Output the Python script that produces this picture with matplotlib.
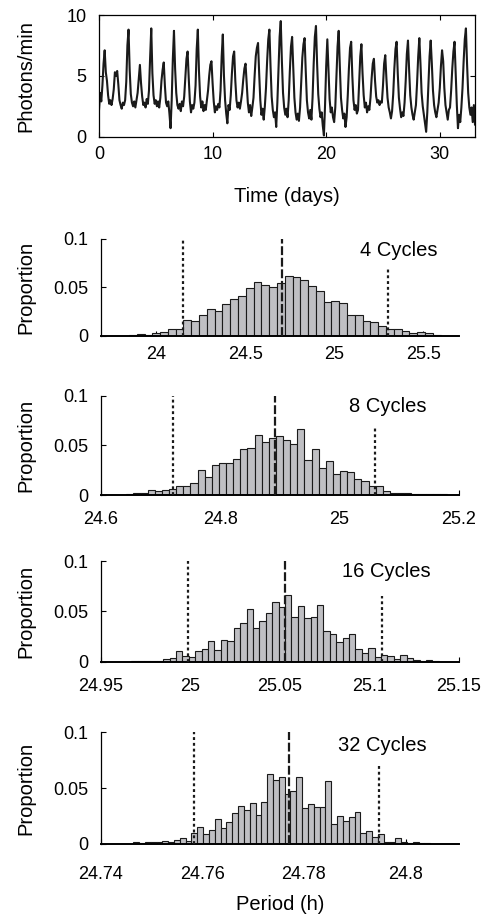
import numpy as np
import matplotlib
matplotlib.use("Agg")
import matplotlib.pyplot as plt

plt.rcParams['font.family'] = ['Liberation Sans', 'DejaVu Sans']

# ---------------- bioluminescence trace (photons/min, one sample every 0.1 day)
sample_step_days = 0.1
photons = [
    2.2, 3.6, 2.9, 4.2, 6.0, 7.1, 5.3, 4.6, 3.4, 2.7,
    3.0, 2.6, 3.1, 3.9, 5.3, 5.0, 5.4, 4.3, 3.0, 2.6,
    2.3, 2.8, 2.6, 3.0, 4.5, 7.5, 8.8, 5.5, 3.5, 2.8,
    2.5, 2.9, 2.4, 3.0, 3.6, 4.8, 5.9, 4.4, 3.3, 2.6,
    2.8, 2.4, 3.1, 2.7, 3.8, 6.5, 8.9, 5.2, 3.4, 2.7,
    3.0, 2.5, 2.9, 2.4, 3.2, 4.6, 5.5, 6.1, 4.2, 2.8,
    2.5, 2.9, 1.9, 0.7, 3.0, 6.4, 8.7, 5.6, 3.6, 2.6,
    2.3, 2.7, 2.1, 2.9, 2.5, 3.3, 4.9, 6.4, 7.0, 4.8,
    2.9, 2.0, 2.6, 2.3, 2.8, 4.2, 7.2, 8.8, 5.4, 3.3,
    2.4, 2.9, 2.1, 2.6, 2.2, 3.0, 3.8, 5.0, 5.9, 6.2,
    4.4, 2.9, 2.0, 2.5, 2.2, 2.7, 2.4, 3.8, 6.6, 8.4,
    5.0, 3.0, 1.9, 1.1, 2.6, 2.2, 3.4, 5.2, 6.6, 7.0,
    4.6, 3.0, 2.4, 2.8, 2.3, 2.9, 3.6, 4.7, 5.6, 6.0,
    4.4, 2.8, 2.0, 2.6, 1.7, 2.4, 3.2, 5.0, 6.6, 7.3,
    7.7, 5.2, 3.0, 1.8, 2.3, 1.4, 2.5, 4.0, 6.2, 8.0,
    8.8, 5.8, 3.3, 2.2, 1.6, 2.0, 0.8, 2.8, 5.5, 8.2,
    9.5, 6.2, 3.6, 2.4, 1.8, 2.3, 1.6, 3.0, 5.4, 7.4,
    8.2, 5.6, 3.2, 2.0, 1.4, 1.9, 1.3, 2.4, 4.5, 6.5,
    7.6, 8.1, 5.4, 3.0, 2.0, 1.5, 2.2, 1.4, 3.2, 6.0,
    8.2, 9.1, 6.0, 3.5, 2.3, 1.6, 2.0, 0.9, 0.1, 2.6,
    5.8, 8.0, 5.6, 3.1, 2.0, 2.4, 1.6, 1.2, 2.4, 4.8,
    7.4, 8.7, 5.8, 3.2, 2.2, 1.5, 1.9, 0.8, 1.6, 3.4,
    5.6, 7.3, 7.8, 5.0, 3.0, 2.2, 2.6, 1.9, 2.2, 4.3,
    6.6, 7.6, 5.2, 3.4, 2.4, 2.8, 2.0, 2.5, 2.2, 3.2,
    4.8, 6.0, 6.4, 4.6, 3.3, 2.8, 3.0, 2.6, 2.9, 2.8,
    4.2, 6.0, 6.7, 4.8, 3.2, 2.4, 2.0, 1.5, 2.1, 3.5,
    5.6, 7.2, 7.8, 5.2, 3.2, 2.3, 1.6, 2.0, 1.7, 2.8,
    4.6, 6.8, 7.9, 5.5, 3.4, 2.4, 1.8, 1.4, 2.0, 2.6,
    4.4, 6.6, 8.1, 6.0, 3.6, 2.5, 1.8, 1.1, 0.4, 2.0,
    4.2, 6.6, 7.9, 6.0, 3.8, 2.6, 2.0, 1.6, 2.2, 2.8,
    4.0, 5.8, 7.1, 6.2, 4.0, 2.6, 2.0, 1.4, 2.2, 2.4,
    3.8, 5.6, 7.0, 7.8, 5.2, 2.6, 0.7, 1.8, 1.2, 2.4,
    4.0, 6.2, 8.0, 8.9, 6.0, 3.6, 2.4, 1.8, 2.4, 1.2,
    2.6, 1.0,
]
time_xlim = (0, 33.1)
time_xticks = [0, 10, 20, 30]
photon_yticks = [0, 5, 10]

# ---------------- bootstrap period distributions
cycles_labels = ["4 Cycles", "8 Cycles", "16 Cycles", "32 Cycles"]

bin_start = [23.761, 24.619, 24.967, 24.7464]
bin_width = [0.0437, 0.01193, 0.003577, 0.001146]

prop_4 = [0.0003, 0.0003, 0.0006, 0.0024, 0.0015, 0.003, 0.004, 0.007, 0.007,
          0.016, 0.015, 0.022, 0.028, 0.026, 0.033, 0.038, 0.041, 0.049, 0.055,
          0.052, 0.050, 0.054, 0.062, 0.061, 0.058, 0.051, 0.046, 0.035, 0.036,
          0.034, 0.022, 0.022, 0.015, 0.014, 0.0105, 0.007, 0.007, 0.005, 0.0027,
          0.0044, 0.0027, 0.001, 0.0005, 0.0003]
prop_8 = [0.0003, 0.0003, 0.0007, 0.0024, 0.0017, 0.0047, 0.0037, 0.0054, 0.0064,
          0.0088, 0.0095, 0.0125, 0.0247, 0.018, 0.030, 0.032, 0.032, 0.036, 0.0466,
          0.047, 0.060, 0.053, 0.057, 0.059, 0.055, 0.051, 0.066, 0.035, 0.046,
          0.027, 0.034, 0.021, 0.024, 0.023, 0.016, 0.0145, 0.009, 0.0095, 0.004,
          0.0017, 0.0017, 0.0017, 0.0007, 0.0014, 0.0007, 0.0014, 0.0007]
prop_16 = [0.0003, 0.0007, 0.0003, 0.001, 0.001, 0.0023, 0.0033,
           0.011, 0.006, 0.005, 0.011, 0.0125, 0.021, 0.0115, 0.022, 0.0207, 0.033,
           0.0385, 0.052, 0.0336, 0.040, 0.0487, 0.0595, 0.054, 0.066, 0.044, 0.0556,
           0.043, 0.044, 0.056, 0.0306, 0.028, 0.020, 0.024, 0.0273, 0.0128, 0.009,
           0.0138, 0.0043, 0.007, 0.006, 0.0023, 0.007, 0.0033, 0.0016, 0.0007,
           0.002, 0.0007]
prop_32 = [0.002, 0.0005, 0.002, 0.0015, 0.002, 0.003, 0.002, 0.0036, 0.005, 0.0027,
           0.0095, 0.0149, 0.0086, 0.0125, 0.022, 0.014, 0.0196, 0.028, 0.034, 0.030,
           0.037, 0.0256, 0.0375, 0.0625, 0.057, 0.060, 0.045, 0.0476, 0.060, 0.032,
           0.036, 0.0333, 0.0327, 0.0565, 0.018, 0.025, 0.021, 0.024, 0.029,
           0.0095, 0.0115, 0.006, 0.0088, 0.002, 0.0015, 0.0056, 0.0015, 0.0005,
           0.0015, 0.001, 0.0005]
proportions = [prop_4, prop_8, prop_16, prop_32]

# estimated period (dashed) and 95% interval (dotted)
period_est = [24.706, 24.892, 25.053, 24.777]
ci_low = [24.153, 24.7206, 24.999, 24.7584]
ci_high = [25.30, 25.060, 25.107, 24.7948]

hist_xlims = [(23.69, 25.70), (24.6, 25.2), (24.95, 25.15), (24.74, 24.8105)]
hist_xticks = [[24, 24.5, 25, 25.5],
               [24.6, 24.8, 25, 25.2],
               [24.95, 25, 25.05, 25.1, 25.15],
               [24.74, 24.76, 24.78, 24.8]]
hist_xticklabels = [["24", "24.5", "25", "25.5"],
                    ["24.6", "24.8", "25", "25.2"],
                    ["24.95", "25", "25.05", "25.1", "25.15"],
                    ["24.74", "24.76", "24.78", "24.8"]]
prop_yticks = [0, 0.05, 0.1]
prop_yticklabels = ["0", "0.05", "0.1"]

# ---------------- figure
W, H = 490, 915
fig = plt.figure(figsize=(W / 100, H / 100), dpi=100)

TICK_FS = 13
LABEL_FS = 14.5


def px_axes(left, top, right, bottom):
    return fig.add_axes([left / W, 1 - bottom / H, (right - left) / W, (bottom - top) / H])


# top trace
ax0 = px_axes(99, 15, 475, 136.7)
t = np.arange(len(photons)) * sample_step_days
ax0.plot(t, photons, color="#1a1a1a", lw=1.5)
ax0.set_xlim(*time_xlim)
ax0.set_ylim(0, 10)
ax0.set_xticks(time_xticks)
ax0.set_yticks(photon_yticks)
ax0.tick_params(direction="in", length=3.5, width=0.8, top=True, right=True,
                labelsize=TICK_FS)
ax0.tick_params(axis="x", pad=7)
ax0.tick_params(axis="y", pad=9)
for s in ax0.spines.values():
    s.set_linewidth(0.9)
ax0.set_xlabel("Time (days)", fontsize=LABEL_FS, labelpad=17)
ax0.set_ylabel("Photons/min", fontsize=LABEL_FS)
ax0.yaxis.set_label_coords(-0.170, 0.5)

# histogram panels
panel_px = [(100.7, 238.6, 459, 336.0),
            (100.7, 395.7, 459, 495.0),
            (100.7, 561.0, 459, 661.7),
            (100.7, 732.3, 459, 844.0)]
xtick_pad = [7.5, 11.5, 12.0, 15.5]
ci_high_top = [0.07, 0.068, 0.065, 0.07]
label_pos = [(0.94, 0.88), (0.91, 0.89), (0.92, 0.894), (0.91, 0.886)]

for i in range(4):
    ax = px_axes(*panel_px[i])
    props = np.asarray(proportions[i])
    edges = bin_start[i] + bin_width[i] * np.arange(len(props))
    ax.bar(edges, props, width=bin_width[i], align="edge",
           color="#bfbfc3", edgecolor="#1a1a1a", linewidth=0.8, zorder=2)
    ax.vlines(period_est[i], 0, 0.1, colors="#1a1a1a", lw=1.6,
              linestyles=(0, (4.0, 1.2)), zorder=3)
    ax.vlines(ci_low[i], 0, 0.1, colors="#1a1a1a", lw=1.6,
              linestyles=(0, (1.3, 1.3)), zorder=3)
    ax.vlines(ci_high[i], 0, ci_high_top[i], colors="#1a1a1a", lw=1.6,
              linestyles=(0, (1.3, 1.3)), zorder=3)
    ax.set_xlim(*hist_xlims[i])
    ax.set_ylim(0, 0.1)
    ax.set_xticks(hist_xticks[i])
    ax.set_xticklabels(hist_xticklabels[i])
    ax.set_yticks(prop_yticks)
    ax.set_yticklabels(prop_yticklabels)
    ax.spines["top"].set_visible(False)
    ax.spines["right"].set_visible(False)
    ax.spines["left"].set_linewidth(0.9)
    ax.spines["bottom"].set_linewidth(1.4)
    ax.tick_params(direction="in", length=3.5, width=0.8, labelsize=TICK_FS)
    ax.tick_params(axis="x", pad=xtick_pad[i])
    ax.tick_params(axis="y", pad=9)
    ax.set_ylabel("Proportion", fontsize=LABEL_FS)
    ax.yaxis.set_label_coords(-0.183, 0.5)
    ax.text(label_pos[i][0], label_pos[i][1], cycles_labels[i], transform=ax.transAxes,
            ha="right", va="center", fontsize=LABEL_FS)
    if i == 3:
        ax.set_xlabel("Period (h)", fontsize=LABEL_FS, labelpad=9)

fig.savefig("out.png", dpi=100)
